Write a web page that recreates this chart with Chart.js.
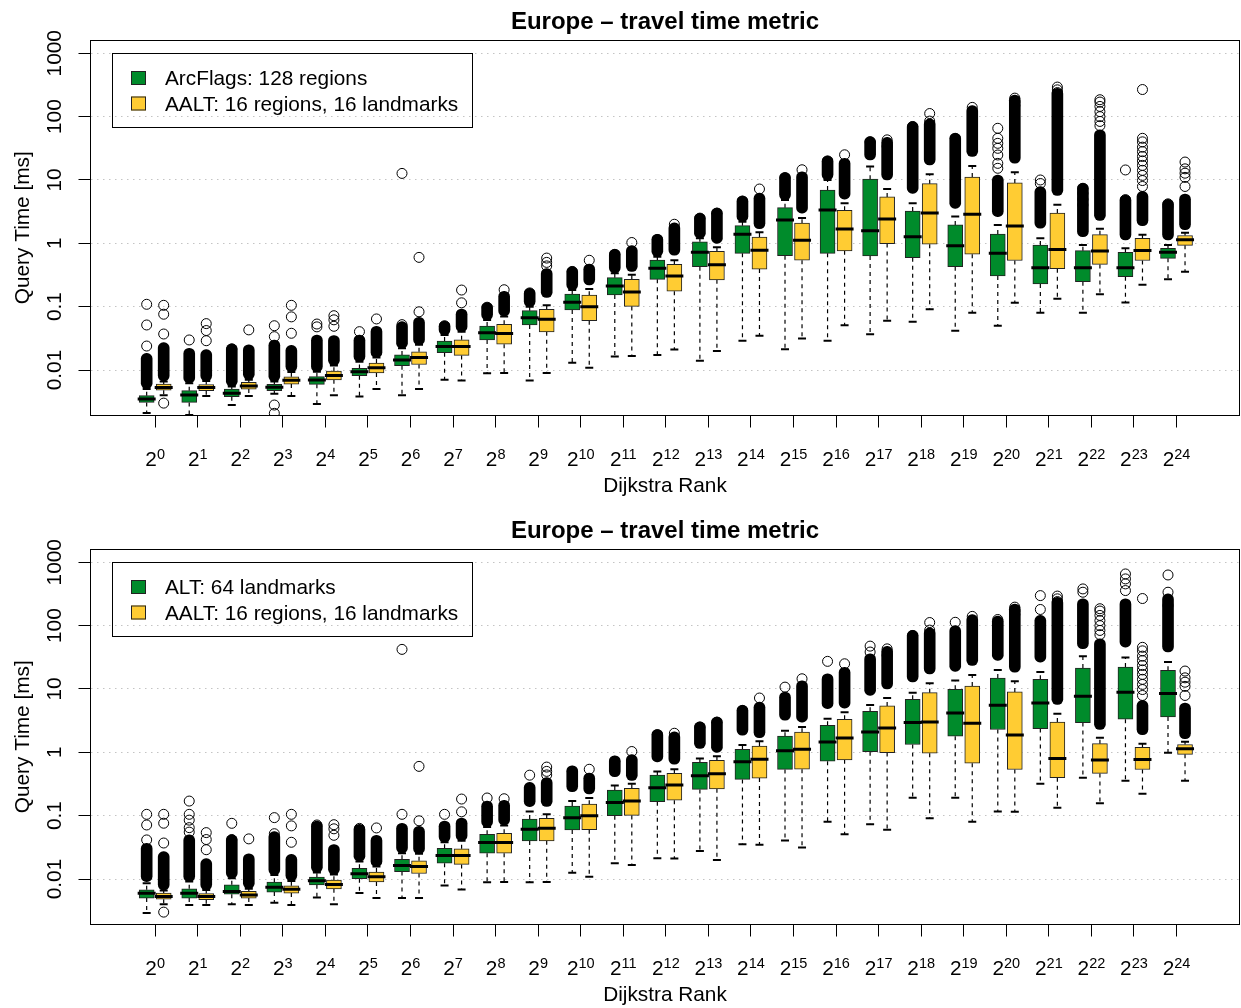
<!DOCTYPE html>
<html>
<head>
<meta charset="utf-8">
<title>Europe – travel time metric</title>
<script src="https://cdn.jsdelivr.net/npm/chart.js@4.4.1/dist/chart.umd.min.js"></script>
<style>
  html, body { margin: 0; padding: 0; background: #fff; overflow: hidden; }
  canvas { display: block; }
</style>
</head>
<body>
<canvas id="top" width="1241" height="509"></canvas>
<canvas id="bottom" width="1241" height="499"></canvas>
<script>
'use strict';

// Dijkstra rank exponents: 2^0 ... 2^24
const rankExp = [0, 1, 2, 3, 4, 5, 6, 7, 8, 9, 10, 11, 12, 13, 14, 15, 16, 17, 18, 19, 20, 21, 22, 23, 24];
const yTicks = [0.01, 0.1, 1, 10, 100, 1000];
const yTickLabels = ['0.01', '0.1', '1', '10', '100', '1000'];

// ArcFlags: 128 regions (query time in ms)
const arcLo  = [0.0021, 0.00195, 0.0028, 0.0042, 0.0029, 0.0038, 0.0040, 0.0070, 0.0089, 0.0068, 0.013, 0.0163, 0.0173, 0.014, 0.029, 0.0212, 0.029, 0.0366, 0.058, 0.0418, 0.050, 0.080, 0.080, 0.116, 0.27];
const arcQ1  = [0.00308, 0.00308, 0.00379, 0.00472, 0.00594, 0.00814, 0.0117, 0.0188, 0.0298, 0.0514, 0.0886, 0.153, 0.27, 0.428, 0.695, 0.638, 0.695, 0.631, 0.594, 0.428, 0.305, 0.228, 0.248, 0.298, 0.58];
const arcMed = [0.00348, 0.00403, 0.00428, 0.00532, 0.00695, 0.00942, 0.0144, 0.0234, 0.0388, 0.067, 0.117, 0.212, 0.403, 0.721, 1.39, 2.34, 3.36, 1.58, 1.27, 0.919, 0.695, 0.413, 0.413, 0.413, 0.721];
const arcQ3  = [0.00393, 0.00472, 0.00501, 0.00594, 0.00785, 0.0106, 0.0173, 0.0287, 0.0495, 0.0865, 0.158, 0.287, 0.546, 1.06, 1.9, 3.66, 6.95, 10.3, 3.24, 1.95, 1.4, 0.94, 0.766, 0.721, 0.834];
const arcHi  = [0.0050, 0.0062, 0.0055, 0.0066, 0.0094, 0.0135, 0.022, 0.0357, 0.0616, 0.10, 0.183, 0.336, 0.616, 1.2, 2.2, 4.83, 10, 16.3, 4.28, 2.64, 1.95, 1.2, 0.94, 0.834, 0.94];
// dense outlier clouds [lower edge, upper edge]
const arcDense = [[0.0051, 0.0183], [0.0062, 0.022], [0.0055, 0.0258], [0.0066, 0.0298], [0.0094, 0.0357], [0.0135, 0.0357], [0.022, 0.058], [0.0357, 0.0594], [0.0616, 0.116], [0.10, 0.195], [0.183, 0.428], [0.34, 0.804], [0.62, 1.39], [1.2, 2.98], [2.2, 5.58], [4.83, 13.1], [10, 23.9], [20.7, 48.3], [6.15, 83.4], [3.57, 54.6], [2.64, 12], [1.73, 7.85], [1.27, 8.86], [1.13, 5.79], [1.13, 4.95]];
const arcOut = [[0.0239, 0.0514, 0.109], [0.0298], [0.0215], [0.00207, 0.0028, 0.0336, 0.05], [0.048, 0.0532], [0.0403], [0.052, 12.7], [0.05], [0.098], [0.165], [0.36], [0.67], [1.15], [2.5], [4.65], [10.9], [20], [40], [70], [45.5], [15.3, 18.3, 24.8, 31.6, 37.9, 45.5, 65.5], [8.8, 10], [4.03, 4.95, 6.15, 7.4], [4.9, 14.4], [3.79, 4.2]];

// ALT: 64 landmarks
const altLo  = [0.0029, 0.0039, 0.0040, 0.0042, 0.0051, 0.0060, 0.0050, 0.0079, 0.0089, 0.0089, 0.0126, 0.0178, 0.0213, 0.0278, 0.0354, 0.0404, 0.0805, 0.0731, 0.192, 0.192, 0.116, 0.319, 0.396, 0.356, 0.982];
const altQ1  = [0.0050, 0.0050, 0.00577, 0.00621, 0.0081, 0.0101, 0.0131, 0.0178, 0.0255, 0.0399, 0.0594, 0.100, 0.166, 0.26, 0.373, 0.537, 0.726, 1.02, 1.33, 1.8, 2.29, 2.37, 2.95, 3.33, 3.62];
const altMed = [0.00598, 0.00598, 0.00635, 0.00743, 0.00935, 0.0121, 0.0163, 0.0234, 0.0376, 0.061, 0.0931, 0.162, 0.276, 0.427, 0.708, 1.06, 1.46, 2.1, 2.95, 4.19, 5.53, 6.03, 7.67, 8.87, 8.45];
const altQ3  = [0.00675, 0.0070, 0.0081, 0.00891, 0.0107, 0.0148, 0.0205, 0.0306, 0.0508, 0.0887, 0.142, 0.254, 0.436, 0.692, 1.11, 1.8, 2.68, 4.45, 6.88, 9.9, 14.9, 14.2, 21.4, 22.2, 19.7];
const altHi  = [0.0086, 0.0091, 0.0103, 0.0116, 0.0127, 0.0189, 0.0256, 0.038, 0.066, 0.116, 0.17, 0.30, 0.50, 0.80, 1.3, 2.2, 3.4, 5.6, 8.7, 13.6, 20, 18.5, 33, 31.3, 26.6];
const altDense = [[0.0091, 0.0366], [0.0091, 0.0497], [0.0103, 0.0497], [0.0116, 0.056], [0.0127, 0.0824], [0.019, 0.0731], [0.0256, 0.0757], [0.038, 0.0824], [0.066, 0.17], [0.139, 0.335], [0.239, 0.612], [0.411, 0.881], [0.708, 2.29], [1.15, 3.02], [1.86, 5.53], [3.21, 8.97], [4.9, 17.4], [7.94, 36], [12.9, 84], [19, 100], [28.3, 141], [26.6, 145], [43.2, 265], [45.8, 265], [38.3, 317]];
const altOut = [[0.0414, 0.0713, 0.105], [0.055, 0.0647, 0.085, 0.105, 0.17], [0.042, 0.0757], [0.0519, 0.0931], [0.0713], [0.063], [0.105, 42.2], [0.105], [0.19], [0.436], [0.5], [0.72], [1.9], [2.5], [4.6], [10.7], [27.3], [38.3, 47.5], [70], [113], [125], [180, 298], [337, 380], [358, 456, 547, 655], [208, 337, 631]];

// AALT: 16 regions, 16 landmarks (shown in both panels)
const aaltLo  = [0.0040, 0.0039, 0.0039, 0.0039, 0.0040, 0.0050, 0.0050, 0.0068, 0.0090, 0.0090, 0.0109, 0.0166, 0.021, 0.020, 0.0347, 0.0315, 0.051, 0.060, 0.091, 0.080, 0.115, 0.133, 0.157, 0.222, 0.355];
const aaltQ1  = [0.0048, 0.0047, 0.0050, 0.0060, 0.0070, 0.0090, 0.0122, 0.017, 0.0256, 0.040, 0.060, 0.101, 0.175, 0.265, 0.392, 0.54, 0.76, 0.99, 0.97, 0.673, 0.535, 0.397, 0.465, 0.535, 0.93];
const aaltMed = [0.0053, 0.0053, 0.0056, 0.0069, 0.0082, 0.0109, 0.0157, 0.0234, 0.0378, 0.063, 0.100, 0.170, 0.306, 0.457, 0.778, 1.12, 1.68, 2.42, 3.0, 2.88, 1.87, 0.80, 0.755, 0.768, 1.14];
const aaltQ3  = [0.0060, 0.0059, 0.0064, 0.0078, 0.0096, 0.0129, 0.0194, 0.030, 0.0526, 0.091, 0.152, 0.27, 0.468, 0.745, 1.26, 2.08, 3.32, 5.4, 8.75, 11.1, 9.0, 3.0, 1.37, 1.2, 1.33];
const aaltHi  = [0.0066, 0.0067, 0.0070, 0.0093, 0.0118, 0.0157, 0.025, 0.040, 0.070, 0.105, 0.19, 0.32, 0.54, 0.87, 1.5, 2.5, 4.3, 7.2, 12.3, 16.6, 13.2, 4.05, 1.7, 1.36, 1.47];
const aaltDense = [[0.0067, 0.027], [0.0067, 0.021], [0.0071, 0.025], [0.0094, 0.0245], [0.0118, 0.035], [0.0157, 0.049], [0.025, 0.068], [0.040, 0.092], [0.071, 0.175], [0.14, 0.40], [0.22, 0.47], [0.36, 0.92], [0.65, 2.1], [1.0, 3.6], [1.7, 6.2], [3.0, 13.5], [5.0, 22], [10, 47], [17.3, 92], [23.5, 149], [18.4, 220], [5.7, 280], [2.3, 62], [1.9, 6.6], [1.64, 6.0]];
const aaltOut = [[0.0030, 0.037, 0.076, 0.105], [0.029, 0.042, 0.054], [0.043], [0.038, 0.069, 0.105], [0.049, 0.062, 0.072], [0.064], [0.083, 0.60], [0.115, 0.183], [0.185], [0.44, 0.50, 0.585], [0.54], [1.03], [2.0], [3.0], [7.2], [14.5], [25], [34, 43], [85, 112], [140], [150, 170, 196], [240, 265, 293], [72, 84, 100, 120, 145, 170, 185], [7.9, 9.8, 11.8, 14.2, 17, 20, 23.5, 28, 33, 40, 45.5, 268], [7.9, 11, 12.8, 15, 19.2]];

const GREEN = '#008B2B';
const YELLOW = '#FFCC33';
const FONT = '"Liberation Sans", Arial, Helvetica, sans-serif';
const BASE = '20.8px ' + FONT;
const SUP = '14.5px ' + FONT;

function boxDatasets(s, offset, color) {
  const whisk = [], staples = [], bands = [], boxes = [], meds = [], outs = [];
  rankExp.forEach((r, i) => {
    const x = r + offset;
    whisk.push({ x, y: s.q3[i] }, { x, y: s.hi[i] }, { x, y: null },
               { x, y: s.q1[i] }, { x, y: s.lo[i] }, { x, y: null });
    staples.push({ x, y: s.lo[i] }, { x, y: s.hi[i] });
    if (s.dense[i]) bands.push({ x, y: s.dense[i] });
    boxes.push({ x, y: [s.q1[i], s.q3[i]] });
    meds.push({ x, y: s.med[i] });
    for (const v of s.out[i]) outs.push({ x, y: v });
  });
  return [
    { type: 'line', data: whisk, showLine: true, spanGaps: false, borderColor: '#000', borderWidth: 1.2,
      borderDash: [4, 4], pointRadius: 0, fill: false, order: 6 },
    { type: 'scatter', data: staples, pointStyle: 'line', pointRadius: 4, pointBorderWidth: 2,
      pointBorderColor: '#000', order: 5 },
    { type: 'bar', data: bands, grouped: false, barThickness: 11, backgroundColor: '#000',
      borderWidth: 0, borderRadius: 5.5, borderSkipped: false, order: 4 },
    { type: 'bar', data: boxes, grouped: false, barThickness: 15, backgroundColor: color,
      borderColor: '#222', borderWidth: 1, borderSkipped: false, order: 3 },
    { type: 'scatter', data: meds, pointStyle: 'line', pointRadius: 9, pointBorderWidth: 3,
      pointBorderColor: '#000', order: 2 },
    { type: 'scatter', data: outs, pointStyle: 'circle', pointRadius: 5, pointBorderWidth: 1,
      pointBorderColor: '#000', pointBackgroundColor: 'rgba(0,0,0,0)', order: 1 },
  ];
}

function decorations(title, legendLabels) {
  return {
    id: 'decorations',
    afterDraw(chart) {
      const { ctx, chartArea: a } = chart;
      const xs = chart.scales.x, ys = chart.scales.y;
      const cx = (a.left + a.right) / 2;
      ctx.save();
      ctx.fillStyle = '#000';
      ctx.strokeStyle = '#000';
      ctx.lineWidth = 1;

      // plot frame
      const L = Math.floor(a.left) + 0.5, T = Math.floor(a.top) + 0.5;
      const R = Math.floor(a.right) + 0.5, B = Math.floor(a.bottom) + 0.5;
      ctx.strokeRect(L, T, R - L, B - T);

      // title
      ctx.font = 'bold 24px ' + FONT;
      ctx.textAlign = 'center';
      ctx.textBaseline = 'alphabetic';
      ctx.fillText(title, cx, 28.5);

      // x tick labels 2^k
      ctx.textAlign = 'left';
      for (const e of rankExp) {
        const px = xs.getPixelForValue(e);
        ctx.font = BASE;
        const w1 = ctx.measureText('2').width;
        ctx.font = SUP;
        const w2 = ctx.measureText(String(e)).width;
        const left = px - (w1 + w2) / 2;
        ctx.font = BASE;
        ctx.fillText('2', left, a.bottom + 50.5);
        ctx.font = SUP;
        ctx.fillText(String(e), left + w1, a.bottom + 43.8);
      }

      // axis titles
      ctx.font = BASE;
      ctx.textAlign = 'center';
      ctx.fillText('Dijkstra Rank', cx, a.bottom + 76.2);

      yTicks.forEach((v, k) => {
        ctx.save();
        ctx.translate(60.5, ys.getPixelForValue(v));
        ctx.rotate(-Math.PI / 2);
        ctx.fillText(yTickLabels[k], 0, 0);
        ctx.restore();
      });
      ctx.save();
      ctx.translate(29, (a.top + a.bottom) / 2);
      ctx.rotate(-Math.PI / 2);
      ctx.fillText('Query Time [ms]', 0, 0);
      ctx.restore();

      // legend
      ctx.strokeRect(112.5, 53.5, 360, 74);
      const colors = [GREEN, YELLOW];
      const rows = [71, 96.5];
      ctx.textAlign = 'left';
      legendLabels.forEach((label, k) => {
        ctx.fillStyle = colors[k];
        ctx.fillRect(131, rows[k], 15, 14);
        ctx.strokeStyle = '#222';
        ctx.strokeRect(131.5, rows[k] + 0.5, 14, 13);
        ctx.fillStyle = '#000';
        ctx.fillText(label, 165, rows[k] + 14.2);
      });
      ctx.restore();
    }
  };
}

function makeChart(id, title, legendLabels, first) {
  const canvas = document.getElementById(id);
  const height = canvas.height;
  const aalt = { lo: aaltLo, q1: aaltQ1, med: aaltMed, q3: aaltQ3, hi: aaltHi, dense: aaltDense, out: aaltOut };
  const datasets = [...boxDatasets(first, -0.2, GREEN), ...boxDatasets(aalt, 0.2, YELLOW)];

  return new Chart(canvas, {
    type: 'scatter',
    data: { datasets },
    options: {
      responsive: false,
      animation: false,
      devicePixelRatio: 1,
      events: [],
      layout: { autoPadding: false, padding: { top: 40, right: 1.5, left: 0, bottom: 0 } },
      plugins: { legend: { display: false }, tooltip: { enabled: false }, title: { display: false } },
      scales: {
        x: {
          type: 'linear', min: -1.52, max: 25.48, bounds: 'data', offset: false,
          afterBuildTicks: s => { s.ticks = rankExp.map(v => ({ value: v })); },
          afterFit: s => { s.height = height - 415.5; },
          ticks: { display: false },
          grid: { offset: false, drawOnChartArea: false, drawTicks: true, tickLength: 12,
                  tickColor: '#000', tickWidth: 1, color: '#000' },
          border: { display: false },
        },
        y: {
          type: 'logarithmic', min: 0.001913, max: 1622, bounds: 'data',
          afterBuildTicks: s => { s.ticks = yTicks.map(v => ({ value: v })); },
          afterFit: s => { s.width = 90.5; },
          ticks: { display: false },
          grid: { color: '#c4c4c4', lineWidth: 1, drawTicks: true, tickLength: 12,
                  tickColor: '#000', tickWidth: 1 },
          border: { display: false, dash: [1.5, 4.5] },
        },
      },
    },
    plugins: [decorations(title, legendLabels)],
  });
}

makeChart('top', 'Europe – travel time metric',
  ['ArcFlags: 128 regions', 'AALT: 16 regions, 16 landmarks'],
  { lo: arcLo, q1: arcQ1, med: arcMed, q3: arcQ3, hi: arcHi, dense: arcDense, out: arcOut });

makeChart('bottom', 'Europe – travel time metric',
  ['ALT: 64 landmarks', 'AALT: 16 regions, 16 landmarks'],
  { lo: altLo, q1: altQ1, med: altMed, q3: altQ3, hi: altHi, dense: altDense, out: altOut });
</script>
</body>
</html>
